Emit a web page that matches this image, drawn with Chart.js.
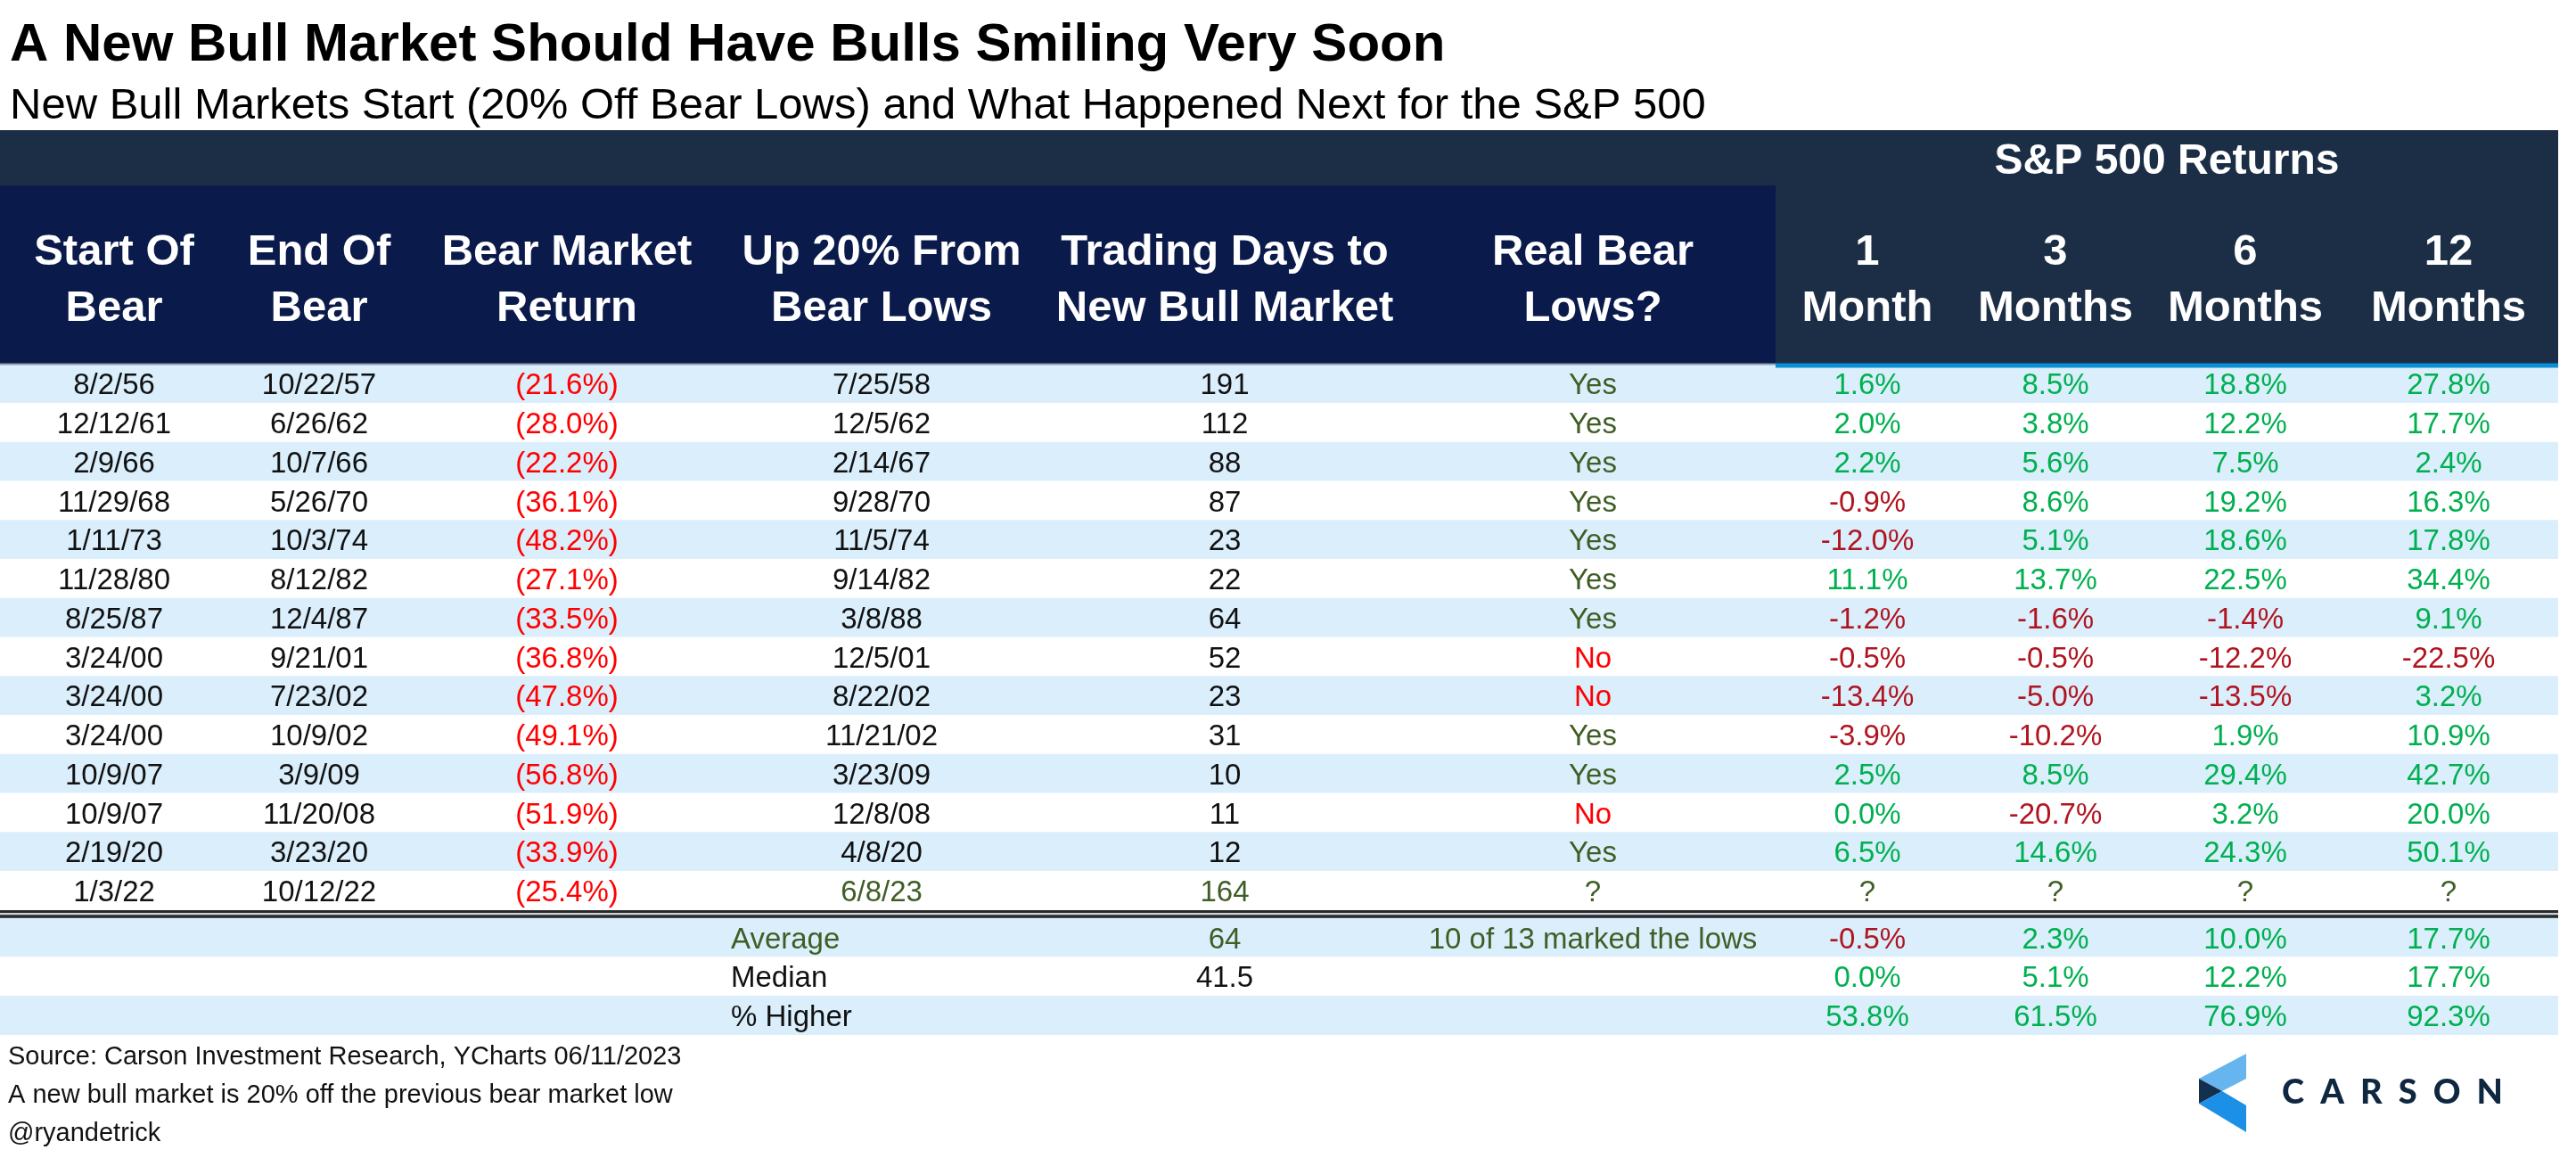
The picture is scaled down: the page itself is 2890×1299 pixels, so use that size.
<!DOCTYPE html>
<html>
<head>
<meta charset="utf-8">
<title>A New Bull Market Should Have Bulls Smiling Very Soon</title>
<script src="https://cdn.jsdelivr.net/npm/chart.js@4.4.1/dist/chart.umd.min.js"></script>
<style>
  html, body { margin: 0; padding: 0; background: #ffffff; }
  canvas { display: block; }
</style>
</head>
<body>
<canvas id="myChart" width="2890" height="1299"></canvas>
<script>
const startOfBear = ["8/2/56", "12/12/61", "2/9/66", "11/29/68", "1/11/73", "11/28/80", "8/25/87",
  "3/24/00", "3/24/00", "3/24/00", "10/9/07", "10/9/07", "2/19/20", "1/3/22"];
const endOfBear = ["10/22/57", "6/26/62", "10/7/66", "5/26/70", "10/3/74", "8/12/82", "12/4/87",
  "9/21/01", "7/23/02", "10/9/02", "3/9/09", "11/20/08", "3/23/20", "10/12/22"];
const bearReturn = [-21.6, -28.0, -22.2, -36.1, -48.2, -27.1, -33.5, -36.8, -47.8, -49.1, -56.8, -51.9, -33.9, -25.4];
const up20FromLows = ["7/25/58", "12/5/62", "2/14/67", "9/28/70", "11/5/74", "9/14/82", "3/8/88",
  "12/5/01", "8/22/02", "11/21/02", "3/23/09", "12/8/08", "4/8/20", "6/8/23"];
const tradingDays = [191, 112, 88, 87, 23, 22, 64, 52, 23, 31, 10, 11, 12, 164];
const realBearLows = ["Yes", "Yes", "Yes", "Yes", "Yes", "Yes", "Yes", "No", "No", "Yes", "Yes", "No", "Yes", "?"];
const return1M = [1.6, 2.0, 2.2, -0.9, -12.0, 11.1, -1.2, -0.5, -13.4, -3.9, 2.5, 0.0, 6.5, null];
const return3M = [8.5, 3.8, 5.6, 8.6, 5.1, 13.7, -1.6, -0.5, -5.0, -10.2, 8.5, -20.7, 14.6, null];
const return6M = [18.8, 12.2, 7.5, 19.2, 18.6, 22.5, -1.4, -12.2, -13.5, 1.9, 29.4, 3.2, 24.3, null];
const return12M = [27.8, 17.7, 2.4, 16.3, 17.8, 34.4, 9.1, -22.5, 3.2, 10.9, 42.7, 20.0, 50.1, null];

const summaryLabels = ["Average", "Median", "% Higher"];
const summaryDays = [64, 41.5, null];
const summaryLows = ["10 of 13 marked the lows", "", ""];
const averageReturns = [-0.5, 2.3, 10.0, 17.7];
const medianReturns = [0.0, 5.1, 12.2, 17.7];
const percentHigher = [53.8, 61.5, 76.9, 92.3];

const columnHeaders = [["Start Of", "Bear"], ["End Of", "Bear"], ["Bear Market", "Return"],
  ["Up 20% From", "Bear Lows"], ["Trading Days to", "New Bull Market"], ["Real Bear", "Lows?"],
  ["1", "Month"], ["3", "Months"], ["6", "Months"], ["12", "Months"]];
const groupHeader = "S&P 500 Returns";

const titleText = "A New Bull Market Should Have Bulls Smiling Very Soon";
const subtitleText = "New Bull Markets Start (20% Off Bear Lows) and What Happened Next for the S&P 500";
const footerLines = ["Source: Carson Investment Research, YCharts 06/11/2023",
  "A new bull market is 20% off the previous bear market low", "@ryandetrick"];

// layout
const colWidths = [256, 204, 352, 354, 416, 410, 206, 216, 210, 246];
const colEdges = [0];
colWidths.forEach((w, i) => colEdges.push(colEdges[i] + w));
const tableWidth = colEdges[colEdges.length - 1];
const colCenter = (c) => (colEdges[c] + colEdges[c + 1]) / 2;
const dataRows = startOfBear.length;
const gapRows = 0.2;
const rowCenter = (i) => (i < dataRows ? i + 0.5 : i + gapRows + 0.5);
const totalRows = dataRows + summaryLabels.length;

const FONT = '"Liberation Sans", Arial, Helvetica, sans-serif';
const BLACK = "#111111";
const RED = "#ff0000";
const OLIVE = "#3f5e25";
const GREEN = "#00b050";
const MAROON = "#b0141f";
const STRIPE = "#daeefb";
const SLATE = "#1b2e46";
const NAVY = "#0a1a4b";

function pct(v) {
  return v.toFixed(1) + "%";
}

function returnColor(v) {
  return v < 0 ? MAROON : GREEN;
}

let rowBands = [];
let rowColors = [];
for (let i = 0; i < totalRows; i++) {
  rowBands.push({ x: [0, tableWidth], y: rowCenter(i) });
  rowColors.push(i % 2 === 0 ? STRIPE : "#ffffff");
}

function text(ctx, str, x, y, size, color, align, weight) {
  ctx.font = (weight || "normal") + " " + size + "px " + FONT;
  ctx.fillStyle = color;
  ctx.textAlign = align || "center";
  ctx.textBaseline = "alphabetic";
  ctx.fillText(str, x, y);
}

const tablePlugin = {
  id: "tableText",
  afterDatasetsDraw(chart) {
    const ctx = chart.ctx;
    const xs = chart.scales.x;
    const ys = chart.scales.y;
    const px = (v) => xs.getPixelForValue(v);
    const py = (v) => ys.getPixelForValue(v);
    ctx.save();

    // title block
    text(ctx, titleText, 11, 68, 60, "#000000", "left", "bold");
    text(ctx, subtitleText, 11, 133, 49, "#000000", "left");

    // header backgrounds
    const splitX = px(colEdges[6]);
    ctx.fillStyle = SLATE;
    ctx.fillRect(px(0), py(-6), px(tableWidth) - px(0), py(0) - py(-6));
    ctx.fillStyle = NAVY;
    ctx.fillRect(px(0), py(-4.58), splitX - px(0), py(0) - py(-4.58));
    ctx.fillStyle = "#8c9ab0";
    ctx.fillRect(px(0), py(0) - 1, splitX - px(0), 2);
    ctx.fillStyle = "#0b8fd8";
    ctx.fillRect(splitX, py(0) - 1, px(tableWidth) - splitX, 5);

    // header text
    text(ctx, groupHeader, (splitX + px(tableWidth)) / 2, py(-4.88), 48, "#ffffff", "center", "bold");
    columnHeaders.forEach((lines, c) => {
      text(ctx, lines[0], px(colCenter(c)), py(-2.55), 49, "#ffffff", "center", "bold");
      text(ctx, lines[1], px(colCenter(c)), py(-1.11), 49, "#ffffff", "center", "bold");
    });

    // body rows
    const fs = 33;
    for (let i = 0; i < dataRows; i++) {
      const y = py(rowCenter(i)) + 12;
      const pending = return1M[i] === null;
      text(ctx, startOfBear[i], px(colCenter(0)), y, fs, BLACK);
      text(ctx, endOfBear[i], px(colCenter(1)), y, fs, BLACK);
      text(ctx, "(" + pct(Math.abs(bearReturn[i])) + ")", px(colCenter(2)), y, fs, RED);
      text(ctx, up20FromLows[i], px(colCenter(3)), y, fs, pending ? OLIVE : BLACK);
      text(ctx, String(tradingDays[i]), px(colCenter(4)), y, fs, pending ? OLIVE : BLACK);
      text(ctx, realBearLows[i], px(colCenter(5)), y, fs, realBearLows[i] === "No" ? RED : OLIVE);
      [return1M, return3M, return6M, return12M].forEach((arr, k) => {
        const v = arr[i];
        if (v === null) {
          text(ctx, "?", px(colCenter(6 + k)), y, fs, OLIVE);
        } else {
          text(ctx, pct(v), px(colCenter(6 + k)), y, fs, returnColor(v));
        }
      });
    }

    // double rule above the summary
    const r1 = py(dataRows);
    const r2 = py(dataRows + gapRows);
    ctx.fillStyle = "#c9d2da";
    ctx.fillRect(px(0), r1, px(tableWidth) - px(0), r2 - r1);
    ctx.fillStyle = "#2a2a2a";
    ctx.fillRect(px(0), r1, px(tableWidth) - px(0), 3);
    ctx.fillRect(px(0), r2 - 3.5, px(tableWidth) - px(0), 3.5);

    // summary rows
    const summaryReturns = [averageReturns, medianReturns, percentHigher];
    summaryLabels.forEach((label, j) => {
      const y = py(rowCenter(dataRows + j)) + 12;
      const labelColor = j === 0 ? OLIVE : BLACK;
      text(ctx, label, px(colEdges[3]) + 8, y, fs, labelColor, "left");
      if (summaryDays[j] !== null) {
        text(ctx, String(summaryDays[j]), px(colCenter(4)), y, fs, labelColor);
      }
      if (summaryLows[j]) {
        text(ctx, summaryLows[j], px(colCenter(5)), y, fs, OLIVE);
      }
      summaryReturns[j].forEach((v, k) => {
        text(ctx, pct(v), px(colCenter(6 + k)), y, fs, returnColor(v));
      });
    });

    // footer
    footerLines.forEach((line, k) => {
      text(ctx, line, 9, 1194 + k * 43, 29, BLACK, "left");
    });

    // logo
    const L = 2467, R = 2520, T = 1182, B = 1270, M = 1224;
    ctx.fillStyle = "#66b5ee";
    ctx.beginPath();
    ctx.moveTo(R, T); ctx.lineTo(R, T + 28); ctx.lineTo(L + 26, M); ctx.lineTo(L, M - 14);
    ctx.closePath(); ctx.fill();
    ctx.fillStyle = "#14304f";
    ctx.beginPath();
    ctx.moveTo(L, M - 14); ctx.lineTo(L + 26, M); ctx.lineTo(L, M + 14);
    ctx.closePath(); ctx.fill();
    ctx.fillStyle = "#1c8fe6";
    ctx.beginPath();
    ctx.moveTo(L, M + 14); ctx.lineTo(L + 26, M); ctx.lineTo(R, M + 16); ctx.lineTo(R, B);
    ctx.closePath(); ctx.fill();

    const word = "CARSON";
    ctx.font = "900 38px Lato, " + FONT;
    ctx.fillStyle = "#0f2740";
    ctx.textAlign = "left";
    let raw = 0;
    for (const ch of word) raw += ctx.measureText(ch).width;
    const gap = (2808 - 2560 - raw) / (word.length - 1);
    let cx = 2560;
    for (const ch of word) {
      ctx.fillText(ch, cx, 1238);
      cx += ctx.measureText(ch).width + gap;
    }

    ctx.restore();
  }
};

new Chart("myChart", {
  type: "bar",
  data: {
    datasets: [
      {
        label: "rows",
        data: rowBands,
        backgroundColor: rowColors,
        borderWidth: 0,
        barPercentage: 1,
        categoryPercentage: 1,
        grouped: false,
      },
    ],
  },
  options: {
    indexAxis: "y",
    responsive: false,
    devicePixelRatio: 1,
    animation: false,
    events: [],
    layout: { padding: { left: 0, right: 20, top: 146, bottom: 138 } },
    scales: {
      x: { type: "linear", min: 0, max: tableWidth, bounds: "data", display: false },
      y: {
        type: "linear",
        min: -6,
        max: dataRows + gapRows + summaryLabels.length,
        bounds: "data",
        reverse: true,
        display: false,
        afterBuildTicks: (axis) => {
          axis.ticks = [];
        },
      },
    },
    plugins: {
      legend: { display: false },
      tooltip: { enabled: false },
    },
  },
  plugins: [tablePlugin],
});
</script>
</body>
</html>
